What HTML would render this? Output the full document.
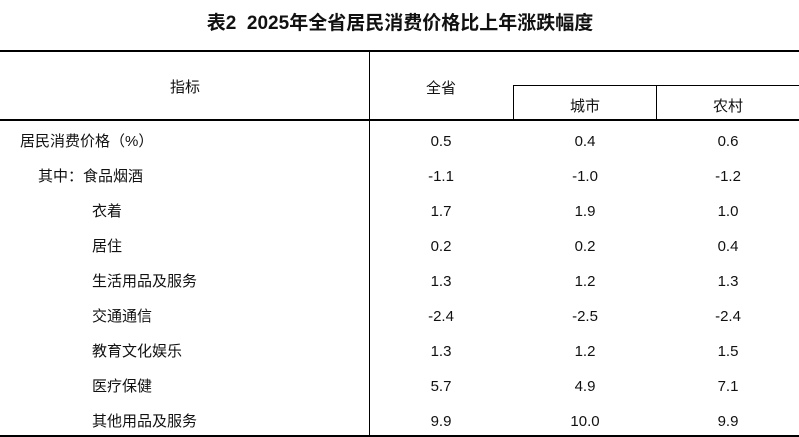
<!DOCTYPE html>
<html><head><meta charset="utf-8"><style>
body{margin:0;width:799px;height:437px;background:#fff;position:relative;overflow:hidden;font-family:"Liberation Sans","Noto Sans CJK SC",sans-serif;color:#111;}
.t{position:absolute;font-size:15px;line-height:20px;white-space:nowrap;}
.c{transform:translateX(-50%);}
.l{position:absolute;background:#000;}
</style></head><body>
<div class="t c" style="left:400px;top:12px;font-size:19px;font-weight:bold;line-height:24px;">表2&nbsp;&nbsp;2025年全省居民消费价格比上年涨跌幅度</div>
<div class="l" style="left:0;top:50px;width:799px;height:1.5px"></div>
<div class="l" style="left:369px;top:50px;width:1px;height:387px"></div>
<div class="l" style="left:513px;top:85px;width:286px;height:1px"></div>
<div class="l" style="left:513px;top:85px;width:1px;height:35px"></div>
<div class="l" style="left:656px;top:85px;width:1px;height:35px"></div>
<div class="l" style="left:0;top:119px;width:799px;height:1.5px"></div>
<div class="l" style="left:0;top:435px;width:799px;height:2px"></div>
<div class="t c" style="left:185px;top:78px">指标</div>
<div class="t c" style="left:441px;top:79px">全省</div>
<div class="t c" style="left:585px;top:97px">城市</div>
<div class="t c" style="left:728px;top:97px">农村</div>

<div class="t" style="left:20px;top:132px">居民消费价格（%）</div>
<div class="t c" style="left:441px;top:132px">0.5</div><div class="t c" style="left:585px;top:132px">0.4</div><div class="t c" style="left:728px;top:132px">0.6</div>

<div class="t" style="left:38px;top:167px">其中：食品烟酒</div>
<div class="t c" style="left:441px;top:167px">-1.1</div><div class="t c" style="left:585px;top:167px">-1.0</div><div class="t c" style="left:728px;top:167px">-1.2</div>

<div class="t" style="left:92px;top:202px">衣着</div>
<div class="t c" style="left:441px;top:202px">1.7</div><div class="t c" style="left:585px;top:202px">1.9</div><div class="t c" style="left:728px;top:202px">1.0</div>

<div class="t" style="left:92px;top:237px">居住</div>
<div class="t c" style="left:441px;top:237px">0.2</div><div class="t c" style="left:585px;top:237px">0.2</div><div class="t c" style="left:728px;top:237px">0.4</div>

<div class="t" style="left:92px;top:272px">生活用品及服务</div>
<div class="t c" style="left:441px;top:272px">1.3</div><div class="t c" style="left:585px;top:272px">1.2</div><div class="t c" style="left:728px;top:272px">1.3</div>

<div class="t" style="left:92px;top:307px">交通通信</div>
<div class="t c" style="left:441px;top:307px">-2.4</div><div class="t c" style="left:585px;top:307px">-2.5</div><div class="t c" style="left:728px;top:307px">-2.4</div>

<div class="t" style="left:92px;top:342px">教育文化娱乐</div>
<div class="t c" style="left:441px;top:342px">1.3</div><div class="t c" style="left:585px;top:342px">1.2</div><div class="t c" style="left:728px;top:342px">1.5</div>

<div class="t" style="left:92px;top:377px">医疗保健</div>
<div class="t c" style="left:441px;top:377px">5.7</div><div class="t c" style="left:585px;top:377px">4.9</div><div class="t c" style="left:728px;top:377px">7.1</div>

<div class="t" style="left:92px;top:412px">其他用品及服务</div>
<div class="t c" style="left:441px;top:412px">9.9</div><div class="t c" style="left:585px;top:412px">10.0</div><div class="t c" style="left:728px;top:412px">9.9</div>
</body></html>
